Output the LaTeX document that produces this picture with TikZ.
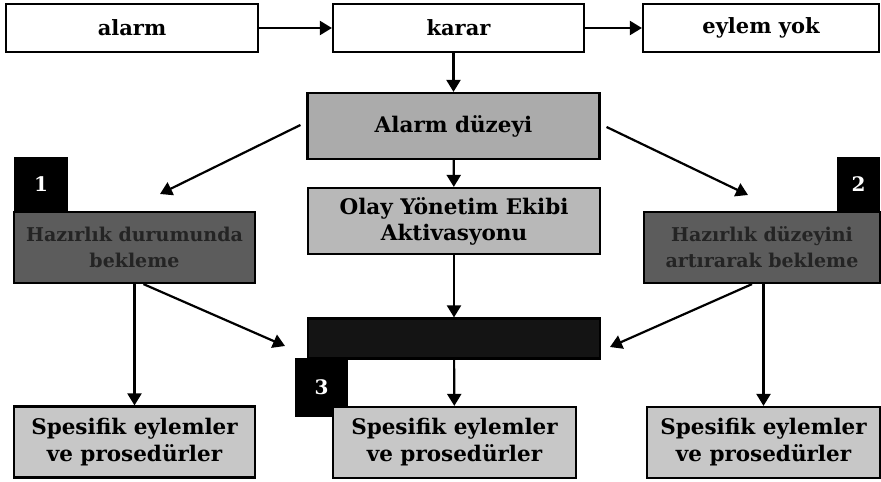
\documentclass[tikz,border=0pt]{standalone}
\usepackage{fontspec}
\setmainfont{DejaVu Serif}
\usetikzlibrary{arrows.meta, positioning}

\begin{document}
\begin{tikzpicture}[x=1pt,y=-1pt]

        % Setup the styles for the boxes
        \tikzset{top style/.style={draw=black, line width=2.2pt, fill=white,
                                   minimum height=48pt, inner sep=0pt,
                                   font=\fontsize{21}{24}\selectfont\bfseries},
                 mid style/.style={draw=black, line width=2.2pt,
                                   minimum width=292pt, inner sep=0pt, align=center,
                                   font=\fontsize{21.5}{26}\selectfont\bfseries},
                 side style/.style={draw=black, line width=2.2pt, fill=black!64,
                                    text=black!86, minimum height=71pt, inner sep=0pt,
                                    align=center, font=\fontsize{19}{26}\selectfont\bfseries},
                 spec style/.style={draw=black, line width=2.2pt, fill=black!22,
                                    minimum height=71pt, inner sep=0pt, align=center,
                                    font=\fontsize{21.5}{27}\selectfont\bfseries},
                 num style/.style={fill=black, text=white, inner sep=0pt,
                                   minimum height=55pt,
                                   font=\fontsize{20}{22}\selectfont\bfseries},
                 link/.style={line width=2.2pt,
                              -{Triangle[width=14pt,length=12pt]}}}

\useasboundingbox (0,0) rectangle (881,482);

% Add the boxes
\node[top style, minimum width=252pt] at (132,28) (alarm) {alarm};
\node[top style, minimum width=251pt] at (458.5,28) (karar) {karar};
\node[top style, minimum width=236pt] at (761,28) (eylem) {eylem yok};

\node[mid style, fill=black!33, minimum height=66pt] at (453.5,126) (duzey) {Alarm düzeyi};
\node[mid style, fill=black!28, minimum height=66pt] at (454,221) (olay) {Olay Yönetim Ekibi\\Aktivasyonu};
\node[mid style, fill=black!92, minimum height=40pt] at (454,338.5) (plan) {};

\node[num style, minimum width=54pt] at (41,184.5) (num1) {1};
\node[num style, minimum width=43pt] at (858.5,184.5) (num2) {2};
\node[num style, minimum width=53pt, minimum height=59pt] at (321.5,387.5) (num3) {3};

\node[side style, minimum width=241pt] at (134.5,247.5) (bekle1) {Hazırlık durumunda\\bekleme};
\node[side style, minimum width=236pt] at (762,247.5) (bekle2) {Hazırlık düzeyini\\artırarak bekleme};

\node[spec style, minimum width=241pt] at (134.5,442) (spec1) {Spesifik eylemler\\ve prosedürler};
\node[spec style, minimum width=243pt] at (454.5,442.5) (spec2) {Spesifik eylemler\\ve prosedürler};
\node[spec style, minimum width=233pt] at (763.5,442.5) (spec3) {Spesifik eylemler\\ve prosedürler};

% Free ends of the slanted arrows
\coordinate (tip1) at (160,194);
\coordinate (tip2) at (748,195);
\coordinate (tip3) at (285,346);
\coordinate (tip4) at (610,347);

\draw[link] (alarm) -- (karar);
\draw[link] (karar) -- (eylem);
\draw[link] (karar.south -| duzey) -- (duzey.north);
\draw[link] (duzey) -- (olay);
\draw[link] (olay) -- (plan);
\draw[link] (plan) -- (spec2);

\draw[link] (duzey.west) ++(-6,-1) -- (tip1);
\draw[link] (duzey.east) ++(6,1) -- (tip2);
\draw[link] (bekle1.south) ++(9,0) -- (tip3);
\draw[link] (bekle2.south) ++(-10,0) -- (tip4);

\draw[link] (bekle1.south -| spec1) -- (spec1.north);
\draw[link] (bekle2.south -| spec3) -- (spec3.north);
\end{tikzpicture}
\end{document}
